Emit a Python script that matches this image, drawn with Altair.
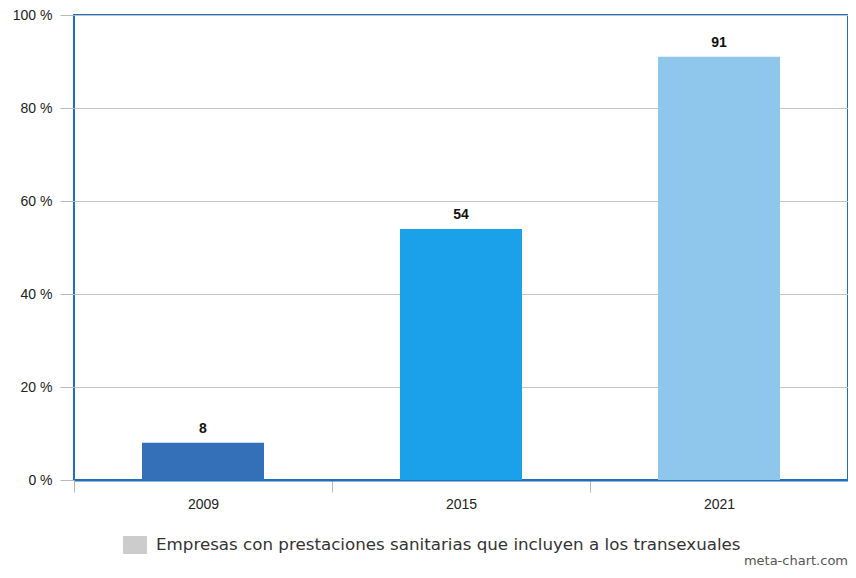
import altair as alt
import pandas as pd

years = ["2009", "2015", "2021"]
values = [8, 54, 91]
colors = ["#3370b8", "#1ba1ea", "#8ec6ec"]
series = "Empresas con prestaciones sanitarias que incluyen a los transexuales"
watermark = "meta-chart.com"

df = pd.DataFrame({"year": years, "value": values, "series": [series] * 3})

W, H = 774, 465

x = alt.X("year:N", title=None, sort=years,
          scale=alt.Scale(paddingInner=0, paddingOuter=0),
          axis=alt.Axis(labelAngle=0, labelFont="Liberation Sans", labelFontSize=14,
                        labelColor="#222", tickBand="extent", tickSize=12,
                        tickColor="#b8b8b8", domainColor="#1f6fbf", domainWidth=2,
                        labelPadding=5, grid=False))
y = alt.Y("value:Q", title=None,
          scale=alt.Scale(domain=[0, 100], nice=False),
          axis=alt.Axis(values=[0, 20, 40, 60, 80, 100], labelExpr="datum.value + ' %'",
                        labelFont="Liberation Sans", labelFontSize=14, labelColor="#222",
                        tickSize=14, tickColor="#b8b8b8", labelPadding=8,
                        gridColor="#c4c4c4", gridWidth=1, domain=False))

bars = alt.Chart(df).mark_bar(strokeWidth=0, width=alt.RelativeBandSize(0.473)).encode(
    x=x, y=y,
    fill=alt.Fill("year:N", scale=alt.Scale(domain=years, range=colors), legend=None),
    stroke=alt.Stroke("series:N", scale=alt.Scale(range=["#cccccc"]),
                      legend=alt.Legend(title=None, orient="none", legendX=49, legendY=518,
                                        symbolType="M-1,-0.74L1,-0.74L1,0.74L-1,0.74Z",
                                        symbolSize=529,
                                        symbolFillColor="#cccccc", symbolStrokeColor="#bdbdbd",
                                        symbolStrokeWidth=1, labelFont="DejaVu Sans",
                                        labelFontSize=16.7, labelColor="#333", labelLimit=800,
                                        labelOffset=9)),
)

labels = alt.Chart(df).mark_text(dy=-14, fontWeight="bold", font="Liberation Sans",
                                 fontSize=14, color="#111").encode(
    x=alt.X("year:N", sort=years), y="value:Q", text="value:Q")

wm = alt.Chart(pd.DataFrame({"t": [watermark]})).mark_text(
    align="right", baseline="bottom", font="DejaVu Sans", fontSize=13, color="#555").encode(
    x=alt.value(W), y=alt.value(H + 88), text="t:N")

chart = alt.layer(bars, labels, wm).properties(
    width=W, height=H,
    autosize=alt.AutoSizeParams(type="none"),
    padding={"left": 66, "top": 7, "right": 0, "bottom": 88},
).configure(background="white").configure_view(stroke="#1f6fbf", strokeWidth=2)

chart.save("out.html", embed_options={"renderer": "svg", "actions": False})
